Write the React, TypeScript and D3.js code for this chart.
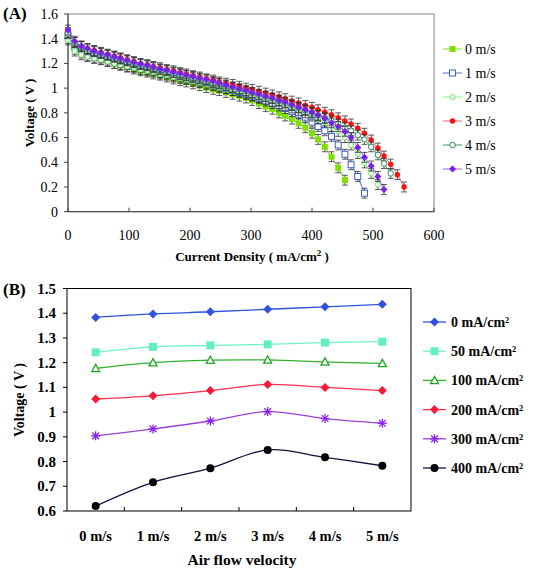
import React from "react";
import * as d3 from "d3";

// ---------- Panel A data ----------
const currentDensity = [0,11,22,32,43,54,65,76,86,97,108,119,130,140,151,162,173,184,194,205,216,227,238,248,259,270,281,292,302,313,324,335,346,356,367,378,389,400,410,421,432,443,454,464,475,486,497,508,518,529,540,551];
const speedLabels = ["0 m/s", "1 m/s", "2 m/s", "3 m/s", "4 m/s", "5 m/s"];
const v0ms = [1.40,1.315,1.285,1.265,1.25,1.235,1.22,1.20,1.185,1.17,1.155,1.14,1.13,1.115,1.105,1.09,1.075,1.06,1.05,1.035,1.02,1.005,0.99,0.98,0.965,0.95,0.935,0.92,0.90,0.875,0.85,0.83,0.80,0.775,0.75,0.715,0.68,0.635,0.585,0.525,0.445,0.355,0.255];
const v1ms = [1.43,1.34,1.30,1.28,1.265,1.25,1.235,1.22,1.205,1.19,1.175,1.165,1.15,1.14,1.125,1.115,1.10,1.09,1.075,1.065,1.05,1.04,1.025,1.01,0.995,0.98,0.965,0.95,0.935,0.915,0.895,0.875,0.855,0.835,0.81,0.79,0.765,0.725,0.69,0.655,0.61,0.54,0.465,0.38,0.285,0.15];
const v2ms = [1.39,1.30,1.27,1.255,1.24,1.23,1.215,1.20,1.19,1.175,1.165,1.15,1.14,1.13,1.115,1.105,1.09,1.08,1.07,1.055,1.045,1.03,1.02,1.005,0.995,0.98,0.97,0.955,0.94,0.925,0.91,0.895,0.875,0.86,0.84,0.82,0.80,0.775,0.75,0.725,0.69,0.65,0.60,0.54,0.47,0.395,0.31,0.22];
const v3ms = [1.45,1.37,1.34,1.32,1.305,1.29,1.275,1.26,1.245,1.23,1.215,1.20,1.19,1.175,1.165,1.15,1.14,1.125,1.115,1.10,1.09,1.075,1.065,1.05,1.04,1.03,1.015,1.00,0.99,0.975,0.96,0.945,0.93,0.915,0.895,0.88,0.86,0.845,0.825,0.805,0.785,0.76,0.735,0.71,0.675,0.635,0.58,0.515,0.45,0.385,0.30,0.20];
const v4ms = [1.44,1.37,1.335,1.31,1.295,1.28,1.265,1.25,1.235,1.22,1.205,1.19,1.18,1.165,1.15,1.14,1.125,1.11,1.10,1.085,1.075,1.06,1.045,1.035,1.02,1.005,0.99,0.975,0.96,0.945,0.93,0.915,0.895,0.88,0.86,0.84,0.82,0.80,0.78,0.76,0.735,0.71,0.68,0.655,0.62,0.585,0.525,0.46,0.39,0.31];
const v5ms = [1.47,1.38,1.34,1.32,1.30,1.285,1.27,1.255,1.24,1.225,1.21,1.195,1.185,1.17,1.155,1.145,1.13,1.12,1.105,1.095,1.08,1.07,1.055,1.04,1.025,1.01,0.995,0.98,0.965,0.95,0.935,0.92,0.90,0.885,0.865,0.845,0.825,0.805,0.78,0.755,0.72,0.69,0.65,0.60,0.52,0.44,0.37,0.285,0.18];
const errorBarV = 0.04;
const xTicksA = [0, 100, 200, 300, 400, 500, 600];
const yTicksA = [0, 0.2, 0.4, 0.6, 0.8, 1, 1.2, 1.4, 1.6];

// ---------- Panel B data ----------
const airFlow = ["0 m/s", "1 m/s", "2 m/s", "3 m/s", "4 m/s", "5 m/s"];
const densityLabels = ["0 mA/cm²", "50 mA/cm²", "100 mA/cm²", "200 mA/cm²", "300 mA/cm²", "400 mA/cm²"];
const b0 = [1.383, 1.397, 1.406, 1.416, 1.426, 1.436];
const b50 = [1.242, 1.264, 1.27, 1.274, 1.281, 1.285];
const b100 = [1.177, 1.2, 1.21, 1.211, 1.203, 1.197];
const b200 = [1.053, 1.066, 1.087, 1.112, 1.1, 1.087];
const b300 = [0.904, 0.932, 0.964, 1.002, 0.974, 0.955];
const b400 = [0.62, 0.716, 0.773, 0.847, 0.817, 0.783];
const yTicksB = [0.6, 0.7, 0.8, 0.9, 1, 1.1, 1.2, 1.3, 1.4, 1.5];

const FONT = "'Liberation Serif', 'Times New Roman', serif";

type MarkerKind = "square" | "osquare" | "ocircle" | "circle" | "diamond" | "otriangle" | "asterisk";

function Marker({ kind, x, y, s, color }: { kind: MarkerKind; x: number; y: number; s: number; color: string }) {
  const h = s / 2;
  switch (kind) {
    case "square":
      return <rect x={x - h} y={y - h} width={s} height={s} fill={color} />;
    case "osquare":
      return <rect x={x - h} y={y - h} width={s} height={s} fill="white" stroke={color} strokeWidth={1} />;
    case "ocircle":
      return <circle cx={x} cy={y} r={h} fill="white" stroke={color} strokeWidth={1} />;
    case "circle":
      return <circle cx={x} cy={y} r={h} fill={color} />;
    case "diamond":
      return <path d={`M${x},${y - h}L${x + h},${y}L${x},${y + h}L${x - h},${y}Z`} fill={color} />;
    case "otriangle":
      return <path d={`M${x},${y - h}L${x + h},${y + h * 0.8}L${x - h},${y + h * 0.8}Z`} fill="white" stroke={color} strokeWidth={1.3} />;
    case "asterisk":
      return (
        <g stroke={color} strokeWidth={1.3}>
          <line x1={x - h} y1={y} x2={x + h} y2={y} />
          <line x1={x} y1={y - h} x2={x} y2={y + h} />
          <line x1={x - h * 0.75} y1={y - h * 0.75} x2={x + h * 0.75} y2={y + h * 0.75} />
          <line x1={x - h * 0.75} y1={y + h * 0.75} x2={x + h * 0.75} y2={y - h * 0.75} />
        </g>
      );
  }
  return null;
}

export default function App() {
  // Panel A scales
  const xA = d3.scaleLinear().domain([0, 600]).range([68, 434]);
  const yA = d3.scaleLinear().domain([0, 1.6]).range([211.7, 14]);
  const seriesA = [
    { label: speedLabels[0], v: v0ms, color: "#7FE000", line: "#8BE020", kind: "square" as MarkerKind, s: 6 },
    { label: speedLabels[1], v: v1ms, color: "#3A5FCD", line: "#4A6FD8", kind: "osquare" as MarkerKind, s: 6 },
    { label: speedLabels[2], v: v2ms, color: "#66EE66", line: "#88F088", kind: "ocircle" as MarkerKind, s: 5 },
    { label: speedLabels[3], v: v3ms, color: "#FF1010", line: "#FF6080", kind: "circle" as MarkerKind, s: 5.5 },
    { label: speedLabels[4], v: v4ms, color: "#2E8B57", line: "#3A9A60", kind: "ocircle" as MarkerKind, s: 5.5 },
    { label: speedLabels[5], v: v5ms, color: "#7A1FE8", line: "#A060E8", kind: "diamond" as MarkerKind, s: 7 },
  ];
  const lineA = d3.line<[number, number]>().x((d) => xA(d[0])).y((d) => yA(d[1]));

  // Panel B scales
  const xB = d3.scaleBand<string>().domain(airFlow).range([67, 411]);
  const yB = d3.scaleLinear().domain([0.6, 1.5]).range([511, 288.5]);
  const seriesB = [
    { label: densityLabels[0], v: b0, color: "#3050E0", line: "#3050E0", kind: "diamond" as MarkerKind, s: 9 },
    { label: densityLabels[1], v: b50, color: "#60F0C0", line: "#70F0C8", kind: "square" as MarkerKind, s: 8 },
    { label: densityLabels[2], v: b100, color: "#20A820", line: "#30B030", kind: "otriangle" as MarkerKind, s: 8 },
    { label: densityLabels[3], v: b200, color: "#FF1535", line: "#FF3050", kind: "diamond" as MarkerKind, s: 9 },
    { label: densityLabels[4], v: b300, color: "#8A20F0", line: "#9A40D8", kind: "asterisk" as MarkerKind, s: 9 },
    { label: densityLabels[5], v: b400, color: "#000000", line: "#101040", kind: "circle" as MarkerKind, s: 8 },
  ];
  const cx = (c: string) => (xB(c) as number) + xB.bandwidth() / 2;
  const lineB = d3
    .line<[string, number]>()
    .x((d) => cx(d[0]))
    .y((d) => yB(d[1]))
    .curve(d3.curveCatmullRom.alpha(0.5));

  return (
    <svg width={534} height={570} style={{ position: "absolute", left: 0, top: 0, background: "white" }} fontFamily={FONT}>
      <rect x={0} y={0} width={534} height={570} fill="white" />
      {/* ===== Panel A ===== */}
      <text x={3} y={19} fontSize={17} fontWeight="bold">(A)</text>
      <rect x={68} y={14} width={434 - 68} height={211.7 - 14} fill="none" stroke="#808080" strokeWidth={1} />
      <line x1={68} y1={14} x2={68} y2={211.7} stroke="#404040" />
      <line x1={68} y1={211.7} x2={434} y2={211.7} stroke="#404040" />
      {yTicksA.map((t) => (
        <g key={"ya" + t}>
          <line x1={64} x2={68} y1={yA(t)} y2={yA(t)} stroke="#404040" />
          <text x={58} y={yA(t) + 4.8} fontSize={14} textAnchor="end">{t}</text>
        </g>
      ))}
      {xTicksA.map((t) => (
        <g key={"xa" + t}>
          <line x1={xA(t)} x2={xA(t)} y1={211.7} y2={207.7} stroke="#404040" />
          <text x={xA(t)} y={240} fontSize={14} textAnchor="middle">{t}</text>
        </g>
      ))}
      <text transform="translate(34,113) rotate(-90)" fontSize={13} fontWeight="bold" textAnchor="middle">Voltage ( V )</text>
      <text x={252} y={261} fontSize={13} fontWeight="bold" textAnchor="middle">
        Current Density ( mA/cm<tspan dy={-5} fontSize={9}>2</tspan><tspan dy={5}> )</tspan>
      </text>
      {seriesA.map((s, si) => {
        const pts = s.v.map((v, i) => [currentDensity[i], v] as [number, number]);
        return (
          <g key={"sa" + si}>
            <path d={lineA(pts) || ""} fill="none" stroke={s.line} strokeWidth={1} />
            {pts.map((p, i) => (
              <g key={i} stroke="#333" strokeWidth={0.8}>
                <line x1={xA(p[0])} x2={xA(p[0])} y1={yA(p[1] + errorBarV)} y2={yA(p[1] - errorBarV)} />
                <line x1={xA(p[0]) - 3} x2={xA(p[0]) + 3} y1={yA(p[1] + errorBarV)} y2={yA(p[1] + errorBarV)} />
                <line x1={xA(p[0]) - 3} x2={xA(p[0]) + 3} y1={yA(p[1] - errorBarV)} y2={yA(p[1] - errorBarV)} />
              </g>
            ))}
            {pts.map((p, i) => (
              <Marker key={"m" + i} kind={s.kind} x={xA(p[0])} y={yA(p[1])} s={s.s} color={s.color} />
            ))}
          </g>
        );
      })}
      {seriesA.map((s, i) => {
        const y = 49 + i * 24;
        return (
          <g key={"la" + i}>
            <line x1={443} x2={462} y1={y} y2={y} stroke={s.line} strokeWidth={1} />
            <Marker kind={s.kind} x={452.5} y={y} s={s.s} color={s.color} />
            <text x={465} y={y + 5} fontSize={14}>{s.label}</text>
          </g>
        );
      })}

      {/* ===== Panel B ===== */}
      <text x={3} y={295} fontSize={17} fontWeight="bold">(B)</text>
      <rect x={67} y={288.5} width={411 - 67} height={511 - 288.5} fill="none" stroke="#000" strokeWidth={1} />
      {yTicksB.map((t) => (
        <g key={"yb" + t}>
          <line x1={63} x2={67} y1={yB(t)} y2={yB(t)} stroke="#000" />
          <text x={56} y={yB(t) + 5} fontSize={15} fontWeight="bold" textAnchor="end">{t}</text>
        </g>
      ))}
      {airFlow.map((c, i) => (
        <g key={"xb" + c}>
          {i > 0 && <line x1={xB(c) as number} x2={xB(c) as number} y1={511} y2={507} stroke="#000" />}
          <text x={cx(c)} y={541} fontSize={14.5} fontWeight="bold" textAnchor="middle">{c}</text>
        </g>
      ))}
      <text transform="translate(24,400) rotate(-90)" fontSize={14} fontWeight="bold" textAnchor="middle">Voltage ( V )</text>
      <text x={242} y={565} fontSize={15.5} fontWeight="bold" textAnchor="middle">Air flow velocity</text>
      {seriesB.map((s, si) => {
        const pts = s.v.map((v, i) => [airFlow[i], v] as [string, number]);
        return (
          <g key={"sb" + si}>
            <path d={lineB(pts) || ""} fill="none" stroke={s.line} strokeWidth={1.3} />
            {pts.map((p, i) => (
              <Marker key={i} kind={s.kind} x={cx(p[0])} y={yB(p[1])} s={s.s} color={s.color} />
            ))}
          </g>
        );
      })}
      {seriesB.map((s, i) => {
        const y = 322 + i * 29.2;
        return (
          <g key={"lb" + i}>
            <line x1={423} x2={446} y1={y} y2={y} stroke={s.line} strokeWidth={1.3} />
            <Marker kind={s.kind} x={434.5} y={y} s={s.s} color={s.color} />
            <text x={451} y={y + 5} fontSize={14} fontWeight="bold">{s.label}</text>
          </g>
        );
      })}
    </svg>
  );
}
